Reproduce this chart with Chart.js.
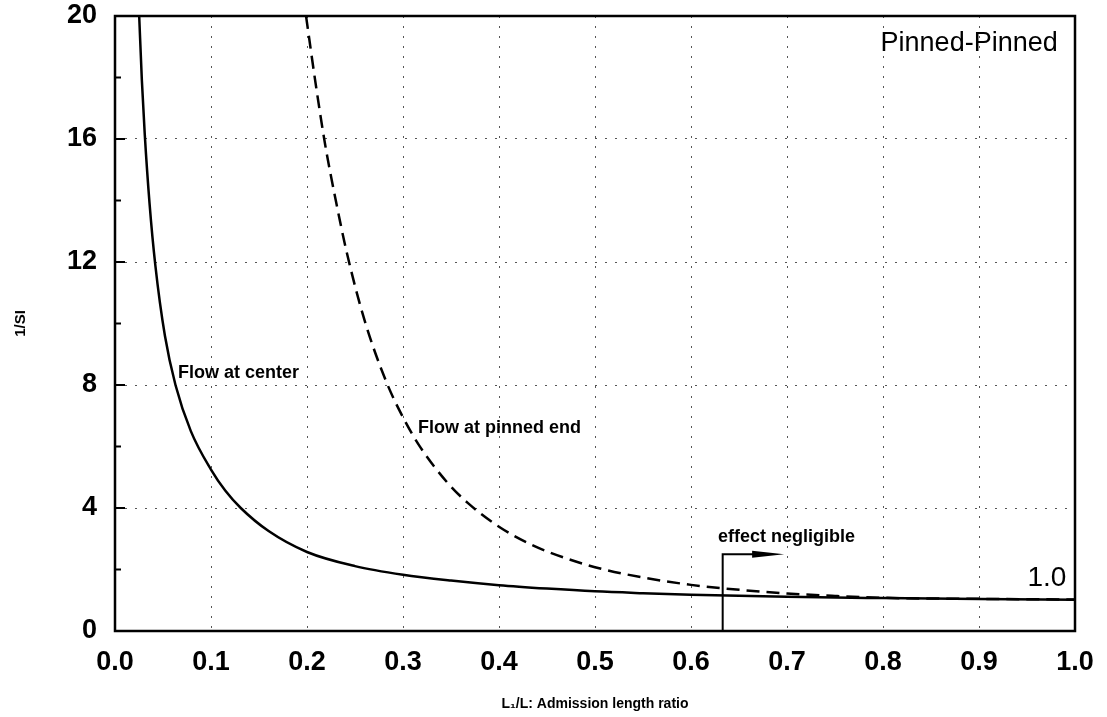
<!DOCTYPE html>
<html>
<head>
<meta charset="utf-8">
<script src="https://cdn.jsdelivr.net/npm/chart.js@4/dist/chart.umd.min.js"></script>
<style>
  html, body { margin: 0; padding: 0; background: #fff; }
  #wrap { width: 1107px; height: 717px; }
</style>
</head>
<body>
<div id="wrap"><canvas id="c" width="1107" height="717"></canvas></div>
<script>
// ---- data ----
const centerX = [0.0252, 0.028, 0.031, 0.036, 0.042, 0.052, 0.063, 0.079, 0.1, 0.115, 0.131, 0.16, 0.2, 0.25, 0.3, 0.35, 0.4, 0.45, 0.5, 0.55, 0.6, 0.7, 0.8, 0.9, 1.0];
const centerY = [20, 17.9, 16.15, 13.9, 11.9, 9.6, 8.0, 6.5, 5.25, 4.56, 4.0, 3.25, 2.57, 2.11, 1.83, 1.64, 1.49, 1.38, 1.29, 1.23, 1.18, 1.11, 1.07, 1.04, 1.02];

const pinnedX = [0.199, 0.209, 0.219, 0.23, 0.2415, 0.26, 0.282, 0.3, 0.318, 0.345, 0.368, 0.402, 0.437, 0.472, 0.507, 0.55, 0.6, 0.636, 0.7, 0.75, 0.8, 0.9, 1.0];
const pinnedY = [20, 17.8, 15.8, 14.0, 12.3, 10.1, 8.15, 6.95, 5.98, 4.87, 4.15, 3.35, 2.76, 2.34, 2.02, 1.74, 1.5, 1.38, 1.22, 1.14, 1.08, 1.045, 1.025];

const xTicks = [0.0, 0.1, 0.2, 0.3, 0.4, 0.5, 0.6, 0.7, 0.8, 0.9, 1.0];
const yTicks = [0, 4, 8, 12, 16, 20];

const negligibleX = 0.633;   // vertical marker position
const negligibleTop = 2.5;   // top of the marker
const negligibleArrowEnd = 0.697;

const xTitle = "L\u2081/L: Admission length ratio";
const yTitle = "1/SI";

// ---- chart ----
const FONT = "'Liberation Sans', Arial, Helvetica, sans-serif";

const annotations = [
  { text: "Flow at center", x: 0.0656, y: 8.4, align: "left", font: "bold 18px " + FONT },
  { text: "Flow at pinned end", x: 0.3156, y: 6.6, align: "left", font: "bold 18px " + FONT },
  { text: "effect negligible", x: 0.628, y: 3.06, align: "left", font: "bold 18px " + FONT },
  { text: "Pinned-Pinned", x: 0.982, y: 19.12, align: "right", font: "27px " + FONT },
  { text: "1.0", x: 0.991, y: 1.72, align: "right", font: "28px " + FONT }
];

const decorPlugin = {
  id: "decor",
  afterDatasetsDraw(chart) {
    const ctx = chart.ctx;
    const xs = chart.scales.x, ys = chart.scales.y;
    const a = chart.chartArea;
    ctx.save();
    // frame
    ctx.strokeStyle = "#000";
    ctx.lineWidth = 2.5;
    ctx.strokeRect(a.left, a.top, a.right - a.left, a.bottom - a.top);
    // inward ticks on left axis
    ctx.lineWidth = 2;
    for (let v = 2; v < 20; v += 2) {
      const py = ys.getPixelForValue(v);
      const len = (v % 4 === 0) ? 10 : 6;
      ctx.beginPath();
      ctx.moveTo(a.left, py);
      ctx.lineTo(a.left + len, py);
      ctx.stroke();
    }
    // "effect negligible" marker and arrow
    const mx = xs.getPixelForValue(negligibleX);
    const my = ys.getPixelForValue(negligibleTop);
    const ex = xs.getPixelForValue(negligibleArrowEnd);
    ctx.lineWidth = 2;
    ctx.beginPath();
    ctx.moveTo(mx, ys.getPixelForValue(0));
    ctx.lineTo(mx, my);
    ctx.lineTo(ex - 30, my);
    ctx.stroke();
    ctx.fillStyle = "#000";
    ctx.beginPath();
    ctx.moveTo(ex - 32, my - 3.5);
    ctx.lineTo(ex, my);
    ctx.lineTo(ex - 32, my + 3.5);
    ctx.closePath();
    ctx.fill();
    // annotations
    ctx.textBaseline = "middle";
    for (const t of annotations) {
      ctx.font = t.font;
      ctx.textAlign = t.align;
      ctx.fillText(t.text, xs.getPixelForValue(t.x), ys.getPixelForValue(t.y));
    }
    ctx.restore();
  }
};

const toPts = (xa, ya) => xa.map((x, i) => ({ x: x, y: ya[i] }));

new Chart(document.getElementById("c"), {
  type: "scatter",
  data: {
    datasets: [
      {
        label: "Flow at center",
        data: toPts(centerX, centerY),
        showLine: true,
        borderColor: "#000",
        borderWidth: 2.5,
        pointRadius: 0,
        cubicInterpolationMode: "monotone",
        fill: false
      },
      {
        label: "Flow at pinned end",
        data: toPts(pinnedX, pinnedY),
        showLine: true,
        borderColor: "#000",
        borderWidth: 2.5,
        borderDash: [13, 7],
        pointRadius: 0,
        cubicInterpolationMode: "monotone",
        fill: false
      }
    ]
  },
  options: {
    responsive: false,
    animation: false,
    devicePixelRatio: 1,
    layout: { padding: { top: 16, right: 32, left: 0, bottom: 0 } },
    plugins: {
      legend: { display: false },
      tooltip: { enabled: false }
    },
    scales: {
      x: {
        type: "linear",
        min: 0, max: 1,
        afterBuildTicks: s => { s.ticks = xTicks.map(v => ({ value: v })); },
        afterFit: s => { s.height = 86; s.paddingLeft = 0; s.paddingRight = 0; },
        ticks: {
          color: "#000",
          padding: 15,
          maxRotation: 0,
          autoSkip: false,
          font: { family: FONT, size: 27, weight: "bold" },
          callback: v => Number(v).toFixed(1)
        },
        grid: { color: "#555", lineWidth: 1, drawTicks: false },
        border: { display: false, dash: [2, 8] },
        title: {
          display: true, text: xTitle, color: "#000",
          font: { family: FONT, size: 14, weight: "bold" },
          padding: { top: 0, bottom: 4 }
        }
      },
      y: {
        type: "linear",
        min: 0, max: 20,
        afterBuildTicks: s => { s.ticks = yTicks.map(v => ({ value: v })); },
        afterFit: s => { s.width = 115; s.paddingTop = 0; s.paddingBottom = 0; },
        ticks: {
          color: "#000",
          padding: 18,
          autoSkip: false,
          font: { family: FONT, size: 27, weight: "bold" }
        },
        grid: { color: "#555", lineWidth: 1, drawTicks: false },
        border: { display: false, dash: [2, 8] },
        title: {
          display: true, text: yTitle, color: "#000",
          font: { family: FONT, size: 15, weight: "bold" },
          padding: { top: 12, bottom: 0 }
        }
      }
    }
  },
  plugins: [decorPlugin]
});
</script>
</body>
</html>
